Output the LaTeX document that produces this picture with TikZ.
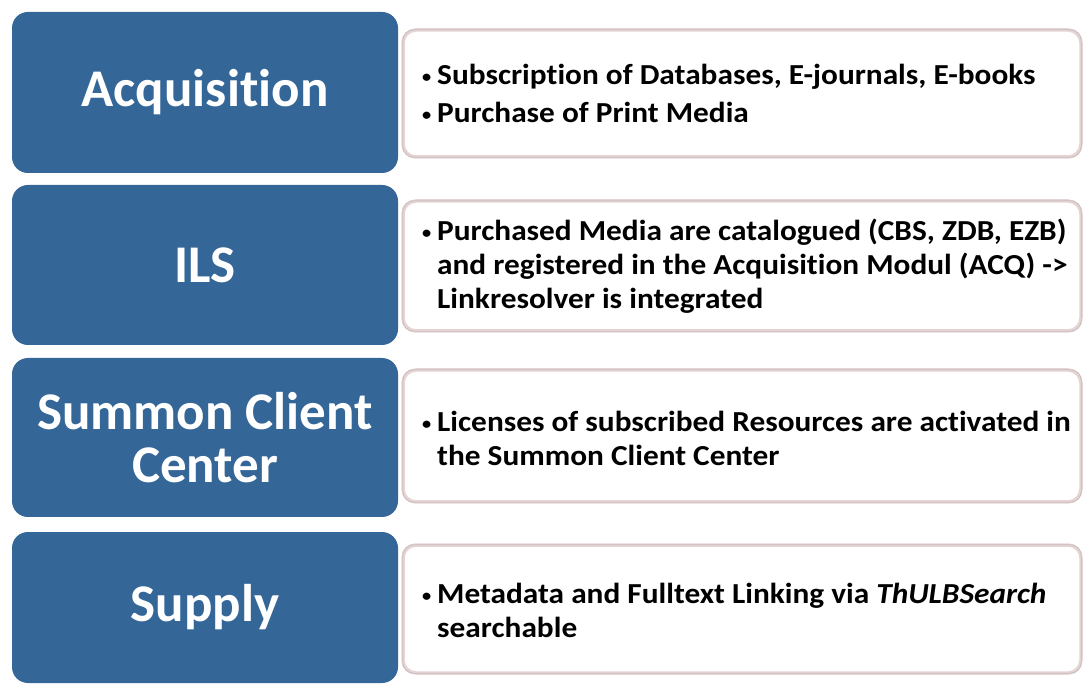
\documentclass[tikz,border=0pt]{standalone}
\usepackage{fontspec}
\setmainfont[Ligatures={NoCommon}]{Carlito}
\newfontfamily\widefont[FakeStretch=1.08,Ligatures={NoCommon}]{Carlito}
\definecolor{bluefill}{RGB}{52,102,152}
\definecolor{shade}{RGB}{230,212,212}
\definecolor{edgegray}{RGB}{200,190,190}
\newcommand{\bitem}{\makebox[16pt][l]{\hspace*{1pt}\raisebox{2pt}{\fontsize{17}{17}\selectfont\textbullet}}}
\newcommand{\bind}{\hspace*{16pt}}
\begin{document}
\begin{tikzpicture}[x=1pt,y=-1pt,
  phase/.style={fill=bluefill, rounded corners=16pt, inner sep=0pt, minimum width=386pt,
    text=white, font=\fontsize{53}{55}\selectfont\bfseries, align=center},
  detail/.style={fill=white, draw=shade, line width=3.5pt, rounded corners=13pt, inner sep=0pt,
    minimum width=678pt},
  detailtext/.style={anchor=west, inner sep=0pt, align=left,
    font=\widefont\fontsize{29}{34}\selectfont\bfseries}]
\useasboundingbox (0,0) rectangle (1085,684);
\clip (0,0) rectangle (1085,684);
% left phase boxes
\node[phase, minimum height=161pt] (acq) at (205,92.5) {Acquisition};
\node[phase, minimum height=160pt] (ils) at (205,265) {ILS};
\node[phase, minimum height=159pt] (scc) at (205,437.5) {Summon Client\\[-2pt]Center};
\node[phase, minimum height=151pt] (sup) at (205,607.5) {Supply};
% right detail boxes
\node[detail, minimum height=127pt] (acqd) at (742,93.5) {};
\node[detail, minimum height=130pt] (ilsd) at (742,266) {};
\node[detail, minimum height=132pt] (sccd) at (742,436) {};
\node[detail, minimum height=128pt] (supd) at (742,609) {};
\foreach \n in {acqd,ilsd,sccd,supd}{
  \draw[edgegray, line width=0.8pt, rounded corners=11pt]
    ([shift={(1.5pt,1.5pt)}]\n.south west) rectangle ([shift={(-1.5pt,-1.5pt)}]\n.north east);
}
% texts
\node[detailtext] (acqt) at (421,93) {\bitem Subscription of Databases, E-journals, E-books\\[4pt]
  \bitem Purchase of Print Media};
\node[detailtext] (ilst) at (421,266) {\bitem Purchased Media are catalogued (CBS, ZDB, EZB)\\
  \bind and registered in the Acquisition Modul (ACQ) ->\\
  \bind Linkresolver is integrated};
\node[detailtext] (scct) at (421,438) {\bitem Licenses of subscribed Resources are activated in\\
  \bind the Summon Client Center};
\node[detailtext] (supt) at (421,610) {\bitem Metadata and Fulltext Linking via \textit{ThULBSearch}\\
  \bind searchable};
\end{tikzpicture}
\end{document}
